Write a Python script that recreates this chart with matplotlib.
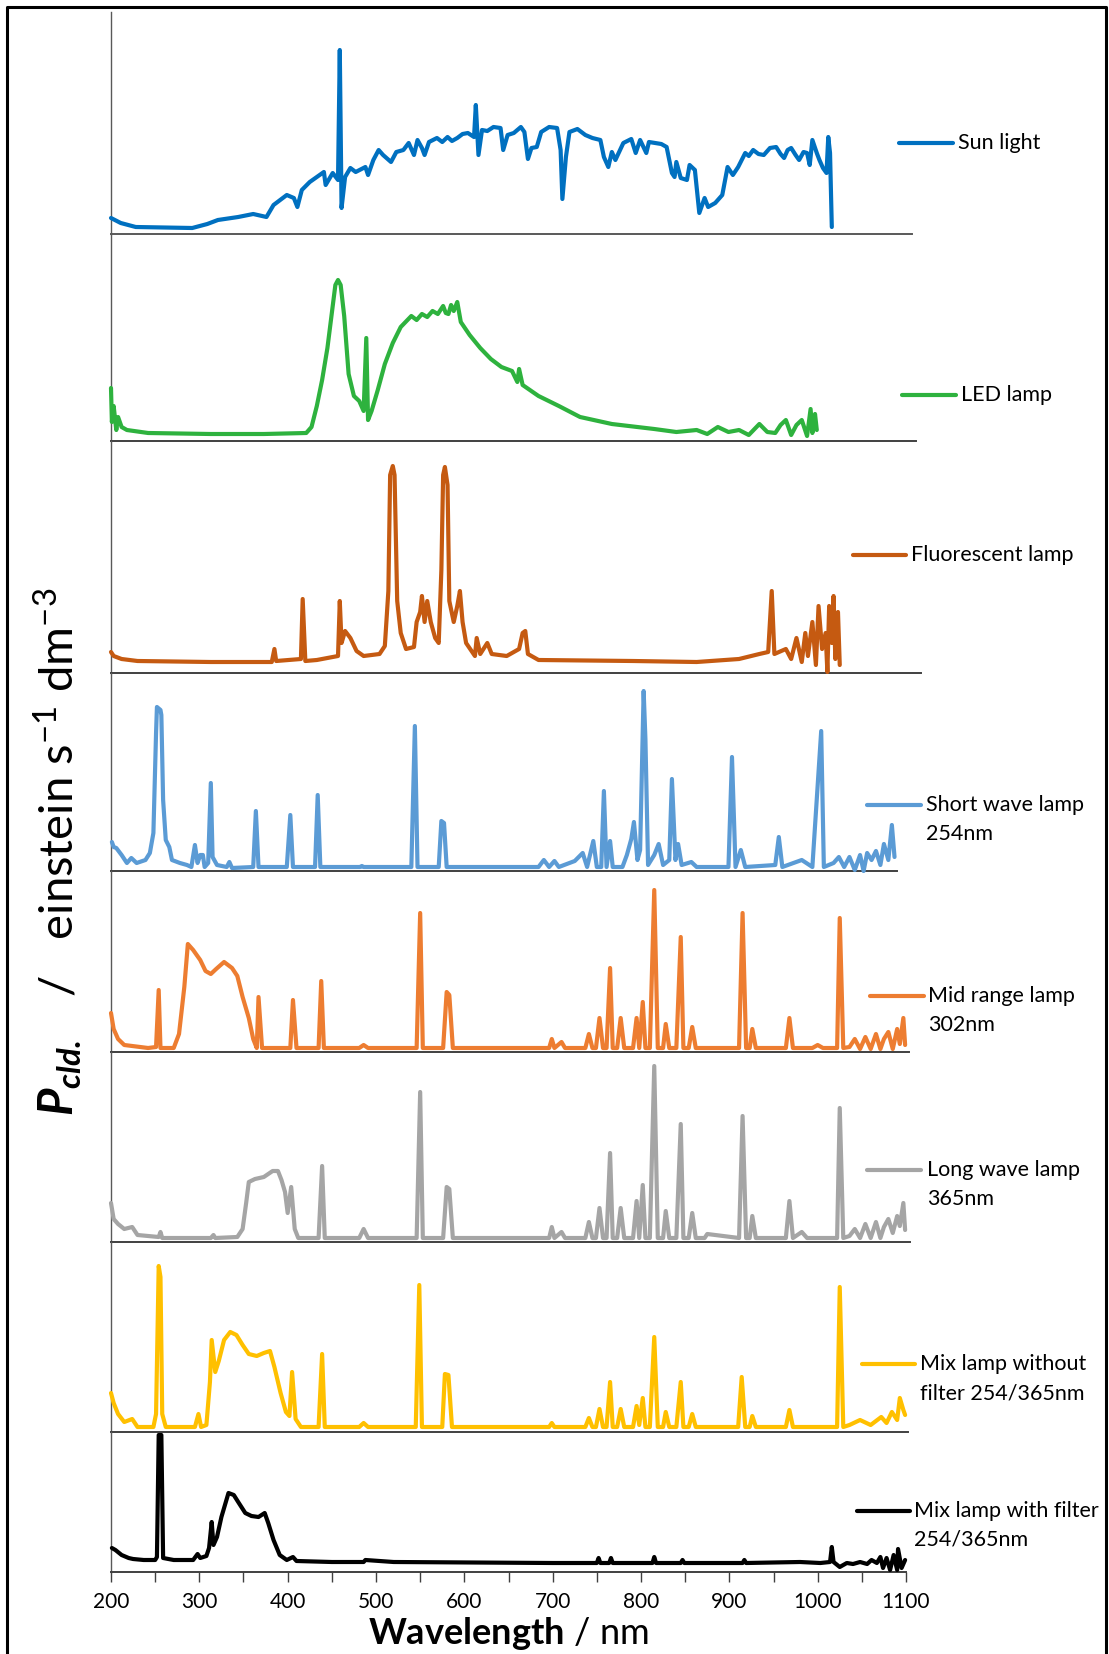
import numpy as np
import matplotlib.pyplot as plt
from matplotlib.lines import Line2D

plt.rcParams['font.family'] = ['Lato', 'DejaVu Sans']
plt.rcParams['mathtext.fontset'] = 'custom'
plt.rcParams['mathtext.rm'] = 'Lato'
plt.rcParams['mathtext.it'] = 'Lato:italic'
plt.rcParams['mathtext.bf'] = 'Lato:bold'
plt.rcParams['mathtext.bfit'] = 'Lato:italic:bold'

# ---- data (wavelength in nm, intensity in arbitrary units) ----
sun_nm = [200, 211, 228, 292, 309, 321, 344, 361, 376, 384, 399, 407, 411, 416, 425, 433, 441, 443, 451, 457,
          459, 461, 465, 471, 477, 488, 491, 497, 503, 508, 517, 523, 531, 537, 543, 547, 552, 555, 560, 569,
          575, 581, 586, 592, 598, 604, 611, 613, 616, 620, 626, 633, 641, 644, 649, 656, 664, 668, 672, 676,
          682, 687, 696, 705, 709, 711, 715, 719, 728, 737, 745, 754, 758, 763, 767, 771, 780, 789, 794, 799,
          806, 809, 823, 829, 835, 838, 840, 845, 852, 855, 861, 866, 872, 876, 884, 892, 898, 904, 910, 918,
          922, 927, 933, 939, 946, 953, 958, 962, 966, 970, 975, 979, 984, 988, 991, 994, 999, 1002, 1006, 1010,
          1012, 1014, 1016]
sun_val = [16, 11, 7, 6, 10, 14, 17, 20, 17, 29, 39, 36, 27, 44, 52, 57, 62, 49, 61, 54,
           184, 26, 57, 66, 62, 67, 59, 74, 84, 79, 72, 82, 84, 91, 79, 94, 86, 79, 92, 96,
           92, 97, 93, 96, 100, 101, 97, 129, 79, 104, 103, 107, 106, 84, 99, 101, 107, 102, 75, 86,
           87, 102, 107, 106, 84, 35, 77, 102, 105, 99, 96, 94, 77, 67, 82, 74, 91, 95, 81, 94,
           81, 92, 90, 87, 61, 57, 72, 56, 54, 69, 64, 21, 36, 27, 31, 39, 67, 59, 67, 81,
           78, 84, 80, 79, 86, 87, 80, 76, 84, 86, 79, 74, 82, 81, 69, 94, 81, 74, 66, 61,
           97, 81, 7]

led_nm = [200, 201, 203, 206, 208, 212, 218, 242, 313, 373, 421, 427, 433, 439, 445, 451, 454, 457, 460, 464,
          469, 475, 481, 486, 489, 491, 495, 502, 510, 519, 528, 540, 546, 552, 558, 564, 570, 576, 579, 582,
          585, 588, 592, 596, 606, 618, 630, 642, 654, 660, 662, 666, 684, 707, 731, 767, 815, 840, 863, 875,
          887, 899, 911, 922, 934, 943, 952, 958, 964, 970, 976, 982, 988, 992, 994, 997, 999]
led_val = [53, 19, 35, 11, 24, 14, 11, 8, 7, 7, 8, 14, 35, 61, 93, 135, 156, 161, 156, 125,
           67, 45, 40, 30, 103, 21, 30, 51, 77, 98, 114, 125, 121, 127, 124, 130, 127, 135, 128, 127,
           136, 130, 139, 119, 106, 93, 82, 74, 70, 59, 72, 56, 45, 35, 24, 17, 12, 9, 11, 7,
           14, 9, 11, 6, 17, 9, 8, 16, 21, 6, 16, 21, 5, 32, 8, 27, 11]

fl_nm = [200, 203, 212, 230, 313, 382, 385, 387, 415, 417, 420, 433, 457, 459, 461, 465, 471, 478, 486, 504,
         510, 514, 516, 519, 521, 524, 528, 534, 543, 546, 550, 552, 555, 558, 562, 567, 571, 574, 576, 578,
         581, 583, 588, 592, 595, 598, 602, 612, 614, 618, 626, 631, 648, 662, 666, 669, 672, 684, 791, 863,
         911, 934, 944, 948, 951, 964, 970, 976, 982, 986, 989, 994, 998, 1001, 1005, 1009, 1011, 1013, 1016, 1018,
         1020, 1023, 1025]
fl_val = [21, 17, 14, 12, 11, 11, 24, 12, 14, 74, 12, 13, 17, 72, 30, 42, 35, 22, 17, 19,
          27, 82, 198, 207, 198, 72, 40, 24, 26, 51, 61, 77, 51, 72, 51, 35, 30, 103, 198, 206,
          188, 72, 51, 67, 82, 51, 30, 17, 35, 19, 30, 19, 17, 24, 40, 42, 19, 13, 12, 11,
          14, 19, 21, 82, 19, 24, 14, 35, 11, 40, 17, 51, 8, 67, 24, 40, 1, 67, 30, 77,
          14, 61, 8]

sw_nm = [201, 203, 206, 212, 218, 223, 229, 239, 244, 248, 251, 252, 256, 257, 259, 262, 266, 269, 278, 286,
         291, 295, 298, 301, 304, 306, 310, 313, 315, 320, 331, 334, 337, 361, 364, 367, 399, 403, 406, 431,
         434, 437, 482, 484, 486, 540, 544, 547, 571, 574, 577, 580, 684, 690, 696, 702, 707, 725, 734, 739,
         746, 750, 755, 758, 761, 765, 768, 779, 784, 789, 792, 796, 799, 803, 805, 808, 815, 820, 825, 832,
         835, 839, 842, 846, 857, 863, 899, 903, 907, 913, 918, 952, 956, 960, 982, 994, 1004, 1007, 1018, 1024,
         1030, 1036, 1042, 1048, 1052, 1056, 1061, 1066, 1071, 1075, 1080, 1084, 1087]
sw_val = [29, 24, 23, 16, 8, 13, 8, 11, 18, 38, 138, 164, 161, 156, 71, 31, 24, 11, 8, 6,
          4, 26, 8, 16, 16, 4, 8, 88, 14, 6, 4, 9, 3, 4, 60, 4, 4, 56, 4, 4,
          76, 4, 4, 5, 4, 4, 145, 4, 4, 50, 48, 4, 4, 11, 4, 10, 4, 10, 18, 4,
          30, 4, 4, 80, 4, 30, 4, 4, 16, 32, 49, 11, 21, 180, 132, 6, 16, 27, 6, 11,
          92, 11, 27, 6, 9, 4, 4, 114, 4, 21, 4, 6, 34, 4, 11, 4, 140, 4, 8, 14,
          4, 14, 1, 16, 0, 18, 11, 20, 6, 27, 11, 46, 14]

mr_nm = [200, 203, 208, 215, 242, 251, 254, 256, 271, 277, 283, 287, 293, 301, 307, 313, 319, 328, 337, 343,
         349, 356, 361, 365, 367, 371, 403, 406, 410, 435, 438, 441, 481, 486, 491, 546, 550, 553, 576, 580,
         583, 587, 612, 696, 699, 702, 710, 714, 737, 741, 745, 749, 753, 757, 761, 765, 768, 773, 777, 781,
         791, 795, 798, 802, 805, 810, 815, 819, 825, 828, 832, 840, 845, 848, 854, 858, 862, 872, 911, 915,
         919, 923, 926, 930, 964, 968, 972, 994, 1000, 1006, 1022, 1025, 1029, 1036, 1042, 1048, 1054, 1060, 1066, 1071,
         1075, 1080, 1085, 1090, 1093, 1097, 1099]
mr_val = [39, 23, 13, 7, 4, 5, 62, 4, 4, 18, 65, 108, 102, 92, 81, 78, 83, 90, 84, 76,
          55, 34, 13, 4, 55, 4, 4, 52, 4, 4, 71, 4, 4, 7, 4, 4, 139, 4, 4, 60,
          57, 4, 4, 4, 13, 4, 10, 4, 4, 18, 4, 4, 34, 4, 4, 84, 4, 4, 34, 4,
          4, 34, 4, 50, 4, 4, 162, 4, 4, 28, 4, 4, 115, 4, 4, 25, 4, 4, 4, 139,
          4, 4, 23, 4, 4, 34, 4, 4, 7, 4, 4, 134, 4, 5, 13, 3, 15, 3, 18, 3,
          13, 20, 3, 23, 8, 34, 7]

lw_nm = [200, 203, 208, 215, 224, 230, 254, 256, 258, 313, 316, 318, 343, 349, 353, 356, 363, 373, 383, 389,
         393, 397, 400, 404, 408, 412, 435, 439, 442, 481, 486, 491, 546, 550, 553, 576, 580, 583, 587, 612,
         696, 699, 702, 710, 714, 737, 741, 745, 749, 753, 757, 761, 765, 768, 773, 777, 781, 791, 795, 798,
         802, 805, 810, 815, 819, 825, 828, 832, 840, 845, 848, 854, 858, 862, 872, 875, 911, 915, 919, 923,
         926, 930, 964, 968, 972, 982, 988, 1022, 1025, 1029, 1036, 1042, 1048, 1054, 1060, 1066, 1071, 1075, 1080, 1085,
         1090, 1093, 1097, 1099]
lw_val = [39, 23, 18, 13, 15, 7, 5, 10, 4, 4, 7, 4, 5, 13, 39, 60, 63, 65, 71, 71,
          62, 50, 29, 55, 13, 4, 4, 76, 4, 4, 13, 4, 4, 150, 4, 4, 55, 53, 4, 4,
          4, 15, 4, 10, 4, 4, 20, 4, 4, 34, 4, 4, 89, 4, 4, 34, 4, 4, 41, 4,
          57, 4, 4, 176, 4, 4, 31, 4, 4, 118, 4, 4, 29, 4, 4, 8, 4, 126, 4, 4,
          26, 4, 4, 41, 4, 10, 4, 4, 134, 4, 6, 13, 4, 18, 4, 20, 4, 15, 23, 9,
          26, 16, 39, 12]

mx_nm = [200, 203, 208, 215, 224, 230, 248, 251, 254, 256, 258, 262, 295, 299, 302, 308, 312, 314, 318, 322,
         328, 335, 342, 349, 356, 365, 373, 380, 385, 392, 398, 402, 405, 409, 415, 435, 439, 442, 481, 486,
         491, 545, 549, 552, 575, 578, 582, 586, 696, 699, 702, 737, 741, 745, 749, 753, 757, 761, 765, 768,
         773, 777, 781, 791, 795, 798, 802, 805, 810, 815, 819, 825, 828, 832, 840, 845, 848, 854, 858, 862,
         910, 914, 918, 923, 926, 930, 964, 968, 972, 1022, 1025, 1029, 1036, 1048, 1060, 1072, 1078, 1084, 1090, 1093,
         1097, 1099]
mx_val = [39, 29, 18, 10, 13, 5, 5, 18, 166, 155, 18, 5, 5, 18, 5, 7, 50, 92, 60, 71,
          92, 100, 97, 87, 78, 76, 79, 81, 65, 39, 20, 16, 60, 13, 5, 5, 78, 5, 5, 9,
          5, 5, 147, 5, 5, 58, 57, 5, 5, 9, 5, 5, 14, 5, 5, 23, 5, 5, 50, 5,
          5, 23, 5, 5, 26, 7, 34, 5, 5, 95, 5, 5, 20, 5, 5, 50, 5, 5, 18, 5,
          5, 55, 5, 5, 16, 5, 5, 22, 5, 5, 145, 5, 7, 12, 7, 15, 9, 20, 12, 34,
          22, 17]

mf_nm = [201, 205, 212, 220, 225, 237, 250, 252, 254, 257, 259, 271, 293, 298, 301, 308, 311, 314, 316, 320,
         325, 333, 339, 344, 352, 359, 367, 374, 378, 384, 391, 399, 406, 410, 450, 486, 488, 520, 700, 740,
         750, 752, 754, 764, 766, 768, 800, 813, 815, 817, 845, 847, 849, 915, 917, 919, 980, 1003, 1014, 1016,
         1018, 1025, 1033, 1040, 1048, 1056, 1061, 1067, 1071, 1074, 1078, 1082, 1086, 1090, 1091, 1095, 1099]
mf_val = [24, 22, 17, 14, 13, 12, 12, 15, 137, 137, 14, 12, 12, 18, 14, 16, 24, 50, 27, 35,
          55, 79, 77, 70, 59, 56, 55, 59, 49, 32, 17, 12, 15, 11, 10, 10, 12, 10, 9, 9,
          9, 14, 9, 9, 14, 9, 9, 9, 15, 9, 9, 12, 9, 9, 12, 9, 10, 9, 10, 25,
          10, 5, 9, 8, 10, 8, 12, 9, 15, 4, 14, 2, 17, 2, 23, 4, 12]

names = [["Sun light"], ["LED lamp"], ["Fluorescent lamp"], ["Short wave lamp", "254nm"],
         ["Mid range lamp", "302nm"], ["Long wave lamp", "365nm"],
         ["Mix lamp without", "filter 254/365nm"], ["Mix lamp with filter", "254/365nm"]]
colors = ['#0070C0', '#2EB23E', '#C55A11', '#5B9BD5', '#ED7D31', '#A5A5A5', '#FFC000', '#000000']
xs = [sun_nm, led_nm, fl_nm, sw_nm, mr_nm, lw_nm, mx_nm, mf_nm]
ys = [sun_val, led_val, fl_val, sw_val, mr_val, lw_val, mx_val, mf_val]

# ---- layout (pixels of the 1109x1654 picture) ----
W, H = 1109, 1654
fig = plt.figure(figsize=(W / 100, H / 100), dpi=100)


def fx(p):
    return p / W


def fy(p):
    return 1 - p / H


x0_px, x1_px = 111, 906          # 200 nm and 1100 nm on the bottom axis
px_per_nm = (x1_px - x0_px) / 900.0
# top, bottom, right end of each stacked panel
panels = [(12, 234, 912), (234, 441, 916), (441, 673, 921), (673, 871, 897),
          (871, 1052, 909), (1052, 1242, 910), (1242, 1432, 908), (1432, 1572, 906)]
# legend: line start, line end, line y, text x
legends = [(899, 953, 143, 958), (902, 956, 395, 961), (853, 906, 555, 911), (867, 921, 805, 926),
           (870, 924, 996, 928), (867, 921, 1170, 927), (862, 915, 1364, 920), (857, 910, 1511, 914)]

for i, (top, bot, right) in enumerate(panels):
    ax = fig.add_axes([fx(x0_px), fy(bot), fx(right) - fx(x0_px), (bot - top) / H])
    ax.plot(xs[i], ys[i], color=colors[i], lw=3.0, solid_joinstyle='round',
            solid_capstyle='round', clip_on=False, zorder=3)
    ax.set_xlim(200, 200 + (right - x0_px) / px_per_nm)
    ax.set_ylim(0, bot - top)
    ax.patch.set_visible(False)
    for s in ['top', 'right']:
        ax.spines[s].set_visible(False)
    ax.spines['left'].set_color('#595959')
    ax.spines['left'].set_linewidth(1.0)
    ax.spines['bottom'].set_color('#404040' if i else '#595959')
    ax.spines['bottom'].set_linewidth(1.4)
    ax.set_yticks([])
    if i < len(panels) - 1:
        ax.set_xticks([])
    else:
        ax.set_xticks(np.arange(200, 1101, 100))
        ax.set_xticks(np.arange(250, 1100, 100), minor=True)
        ax.tick_params(axis='x', which='both', direction='out', length=7.5, width=1.0,
                       color='#404040', labelsize=15, pad=7)

    lx0, lx1, ly, tx = legends[i]
    fig.add_artist(Line2D([fx(lx0), fx(lx1)], [fy(ly), fy(ly)], transform=fig.transFigure,
                          color=colors[i], lw=3.0, solid_capstyle='round'))
    for k, line in enumerate(names[i]):
        fig.text(fx(tx), fy(ly + 29 * k), line, ha='left', va='center', fontsize=15.5, color='black')

fig.text(fx(508), fy(1634), r'$\mathbf{Wavelength}$ / nm', ha='center', va='center', fontsize=26)
fig.text(fx(58), fy(852), r'$\mathbfit{P}_{\mathbfit{cld.}}$   /   einstein s$^{-1}$ dm$^{-3}$',
         rotation=90, ha='center', va='center', fontsize=34)

# outer frame
fig.add_artist(Line2D([fx(7), fx(7), fx(1106), fx(1106)], [fy(H + 5), fy(7), fy(7), fy(H + 5)],
                      transform=fig.transFigure, color='black', lw=2.2))

fig.savefig('out.png', dpi=100)
